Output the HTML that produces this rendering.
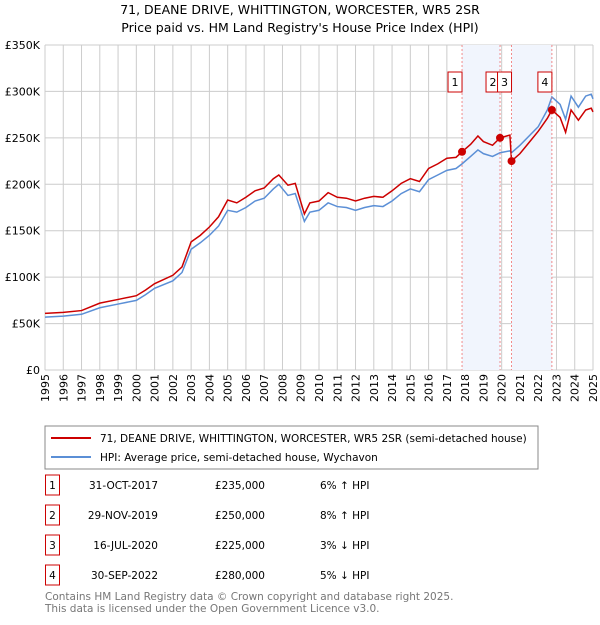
<!DOCTYPE html>
<html><head><meta charset="utf-8"><style>
body{margin:0;background:#fff;font-family:"Liberation Sans","DejaVu Sans",sans-serif;}
svg text{font-family:"DejaVu Sans","Liberation Sans",sans-serif;}
</style></head><body>
<svg id="chart" width="600" height="620" viewBox="0 0 600 620" xmlns="http://www.w3.org/2000/svg">
<text x="300" y="14" text-anchor="middle" font-size="12.5" fill="#000">71, DEANE DRIVE, WHITTINGTON, WORCESTER, WR5 2SR</text>
<text x="300" y="32" text-anchor="middle" font-size="12.5" fill="#000">Price paid vs. HM Land Registry's House Price Index (HPI)</text>
<g id="grid"></g><g id="shade"></g><g id="series"></g><g id="axes"></g><g id="marks"></g>
<rect x="45" y="426" width="493" height="43" fill="#fff" stroke="#888"/>
<line x1="51" y1="438" x2="91" y2="438" stroke="#cc0000" stroke-width="2"/>
<text x="100" y="442" font-size="10.5">71, DEANE DRIVE, WHITTINGTON, WORCESTER, WR5 2SR (semi-detached house)</text>
<line x1="51" y1="457" x2="91" y2="457" stroke="#5b8fd6" stroke-width="2"/>
<text x="100" y="461" font-size="10.5">HPI: Average price, semi-detached house, Wychavon</text>
<g id="table" font-size="10.5"></g>
<text x="45" y="600" font-size="10.5" fill="#777">Contains HM Land Registry data © Crown copyright and database right 2025.</text>
<text x="45" y="612" font-size="10.5" fill="#777">This data is licensed under the Open Government Licence v3.0.</text>
</svg>
<script>
const years=[1995,1996,1997,1998,1999,2000,2000.5,2001,2002,2002.5,2003,2003.5,2004,2004.5,2005,2005.5,2006,2006.5,2007,2007.5,2007.8,2008.3,2008.7,2009.2,2009.5,2010,2010.5,2011,2011.5,2012,2012.5,2013,2013.5,2014,2014.5,2015,2015.5,2016,2016.5,2017,2017.5,2017.83,2018.3,2018.7,2019,2019.5,2019.91,2020.45,2020.54,2021,2021.5,2022,2022.5,2022.75,2023.2,2023.5,2023.8,2024.2,2024.6,2024.9,2025];
const hpi=[57,58,60,67,71,75,81,88,96,105,130,137,145,155,172,170,175,182,185,195,200,188,190,160,170,172,180,176,175,172,175,177,176,182,190,195,192,205,210,215,217,222,230,237,233,230,234,236,234,242,252,262,280,294,286,270,295,283,295,297,292];
const price=[61,62,64,72,76,80,86,93,102,111,138,145,154,165,183,180,186,193,196,206,210,199,201,168,180,182,191,186,185,182,185,187,186,193,201,206,203,217,222,228,229,235,243,252,246,242,250,253,225,233,245,257,271,280,272,256,280,269,280,282,278];
const yTicks=[0,50,100,150,200,250,300,350];
const saleNums=["1","2","3","4"];
const saleYears=[2017.83,2019.91,2020.54,2022.75];
const salePrices=[235,250,225,280];
const saleDates=["31-OCT-2017","29-NOV-2019","16-JUL-2020","30-SEP-2022"];
const saleLabels=["£235,000","£250,000","£225,000","£280,000"];
const saleHpi=["6% ↑ HPI","8% ↑ HPI","3% ↓ HPI","5% ↓ HPI"];
const NS="http://www.w3.org/2000/svg";
const X=y=>45+(y-1995)*(548/30), Y=v=>370-v*(325/350);
function mk(p,t,a){const e=document.createElementNS(NS,t);for(const k in a)e.setAttribute(k,a[k]);document.getElementById(p).appendChild(e);return e;}
for(let yr=1995;yr<=2025;yr++){
 let l=mk('grid','line',{x1:X(yr),x2:X(yr),y1:Y(350),y2:370,stroke:'#ccc'});
 
 
 const tx=X(yr)+4, ty=374;
 let t=mk('axes','text',{x:tx,y:ty,transform:'rotate(-90 '+tx+' '+ty+')','text-anchor':'end','font-size':'11'});
 t.textContent=yr;
 
 
}
yTicks.forEach(v=>{
 let l=mk('grid','line',{x1:45,x2:593,y1:Y(v),y2:Y(v),stroke:'#ccc'});
 
 
 let t=mk('axes','text',{x:40,y:Y(v)+4,'text-anchor':'end','font-size':'11'});
 t.textContent=v===0?'£0':'£'+v+'K';
 
 
});
[[0,1],[2,3]].forEach(([a,b])=>{
 let r=mk('shade','rect',{x:X(saleYears[a]),y:Y(350),width:X(saleYears[b])-X(saleYears[a]),height:370-Y(350),fill:'#f1f5fd'});
 
 
});
let hp=mk('series','polyline',{points:years.map((y,i)=>X(y)+','+Y(hpi[i])).join(' '),fill:'none',stroke:'#5b8fd6','stroke-width':1.5});


let pp=mk('series','polyline',{points:years.map((y,i)=>X(y)+','+Y(price[i])).join(' '),fill:'none',stroke:'#cc0000','stroke-width':1.5});


saleYears.forEach((y,i)=>{
 let l=mk('marks','line',{x1:X(y),x2:X(y),y1:Y(350),y2:370,stroke:'#f07070','stroke-width':0.8,'stroke-dasharray':'2,2'});
 
 
 let c=mk('marks','circle',{cx:X(y),cy:Y(salePrices[i]),r:4,fill:'#cc0000'});
 
 
 let r=mk('marks','rect',{x:X(y)-14,y:72,width:14,height:20,fill:'#fff',stroke:'#cc0000'});
 
 
 let t=mk('marks','text',{x:X(y)-7,y:86,'text-anchor':'middle','font-size':'11'});
 t.textContent=saleNums[i];
 
 
 let ry=483+i*30;
 let b=mk('table','rect',{x:45.5,y:ry-8,width:14,height:20,fill:'#fff',stroke:'#cc0000'});
 
 
 let n=mk('table','text',{x:52.5,y:ry+6,'text-anchor':'middle'});n.textContent=saleNums[i];
 
 
 let d=mk('table','text',{x:158,y:ry+6,'text-anchor':'end'});d.textContent=saleDates[i];
 
 
 let p=mk('table','text',{x:265,y:ry+6,'text-anchor':'end'});p.textContent=saleLabels[i];
 
 
 let h=mk('table','text',{x:320,y:ry+6});h.textContent=saleHpi[i];
 
 
});
</script>
</body></html>
